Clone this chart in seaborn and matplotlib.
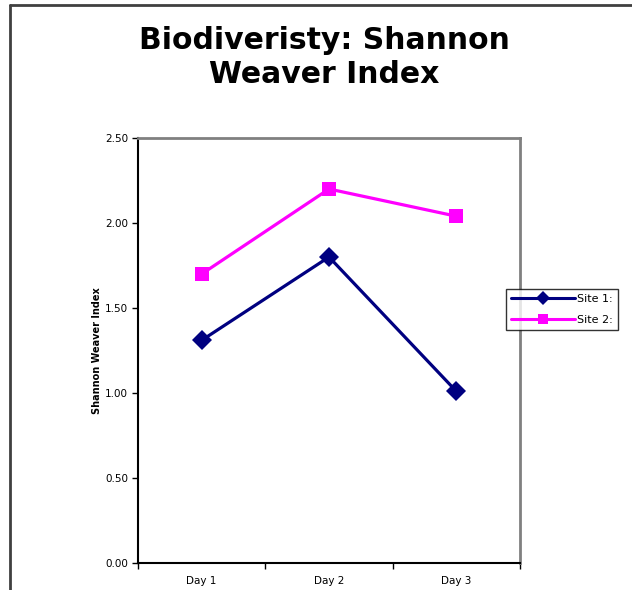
import matplotlib
matplotlib.use("Agg")
import matplotlib.pyplot as plt
from matplotlib.lines import Line2D
import seaborn as sns
import pandas as pd

days = ["Day 1", "Day 2", "Day 3"]
site1 = [1.31, 1.80, 1.01]
site2 = [1.70, 2.20, 2.04]
series_names = ["Site 1:", "Site 2:"]
yticks = [0.0, 0.5, 1.0, 1.5, 2.0, 2.5]

df = pd.DataFrame({
    "Day": days * 2,
    "Index": site1 + site2,
    "Site": [series_names[0]] * 3 + [series_names[1]] * 3,
})

sns.set_style("white")
plt.rcParams["font.family"] = ["DejaVu Sans"]
plt.rcParams["text.color"] = "black"
plt.rcParams["axes.labelcolor"] = "black"
plt.rcParams["xtick.color"] = "black"
plt.rcParams["ytick.color"] = "black"

fig = plt.figure(figsize=(6.32, 5.90), dpi=100)
ax = fig.add_axes([138 / 632, 1 - 563 / 590, (520 - 138) / 632, (563 - 138) / 590])

sns.lineplot(data=df, x="Day", y="Index", hue="Site", style="Site",
             palette={"Site 1:": "#000080", "Site 2:": "#FF00FF"},
             markers={"Site 1:": "D", "Site 2:": "s"}, dashes=False,
             linewidth=2.3, markersize=10, markeredgewidth=0, ax=ax, legend=False)

ax.set_xlim(-0.5, 2.5)
ax.set_ylim(0, 2.5)
ax.set_yticks(yticks)
ax.set_yticklabels([f"{v:.2f}" for v in yticks], fontsize=7.5)
ax.set_xticks([0, 1, 2])
ax.set_xticklabels(days, fontsize=7.5)
ax.set_xticks([-0.5, 0.5, 1.5, 2.5], minor=True)
ax.tick_params(axis="x", which="major", length=0, pad=9)
ax.tick_params(axis="x", which="minor", length=4, width=1, direction="out", bottom=True)
ax.tick_params(axis="y", length=4, width=1, direction="out", left=True, pad=3)
ax.set_xlabel("")
ax.set_ylabel("Shannon Weaver Index", fontsize=7, fontweight="bold", labelpad=2)

for s in ["left", "bottom"]:
    ax.spines[s].set_color("black")
    ax.spines[s].set_linewidth(1.5)
for s in ["top", "right"]:
    ax.spines[s].set_color("#808080")
    ax.spines[s].set_linewidth(2)

fig.suptitle("Biodiveristy: Shannon\nWeaver Index", x=324 / 632, y=1 - 26 / 590,
             fontsize=21.5, fontweight="bold", linespacing=1.2, color="black")

handles = [
    Line2D([], [], color="#000080", lw=2.2, marker="D", markersize=7, markeredgewidth=0),
    Line2D([], [], color="#FF00FF", lw=2.2, marker="s", markersize=7, markeredgewidth=0),
]
leg = fig.legend(handles, series_names, loc="upper left",
                 bbox_to_anchor=(506 / 632, 1 - 289 / 590), fontsize=8,
                 frameon=True, fancybox=False, handlelength=5.8, handletextpad=0.15,
                 borderpad=0.45, labelspacing=0.95, borderaxespad=0)
leg.get_frame().set_edgecolor("black")
leg.get_frame().set_linewidth(1)
leg.set_zorder(10)

fig.add_artist(Line2D([9.5 / 632, 9.5 / 632], [0, 1 - 4.5 / 590], transform=fig.transFigure,
                      color="#404040", lw=2))
fig.add_artist(Line2D([9.5 / 632, 1], [1 - 4.5 / 590, 1 - 4.5 / 590], transform=fig.transFigure,
                      color="#404040", lw=2))

fig.savefig("out.png", dpi=100)
